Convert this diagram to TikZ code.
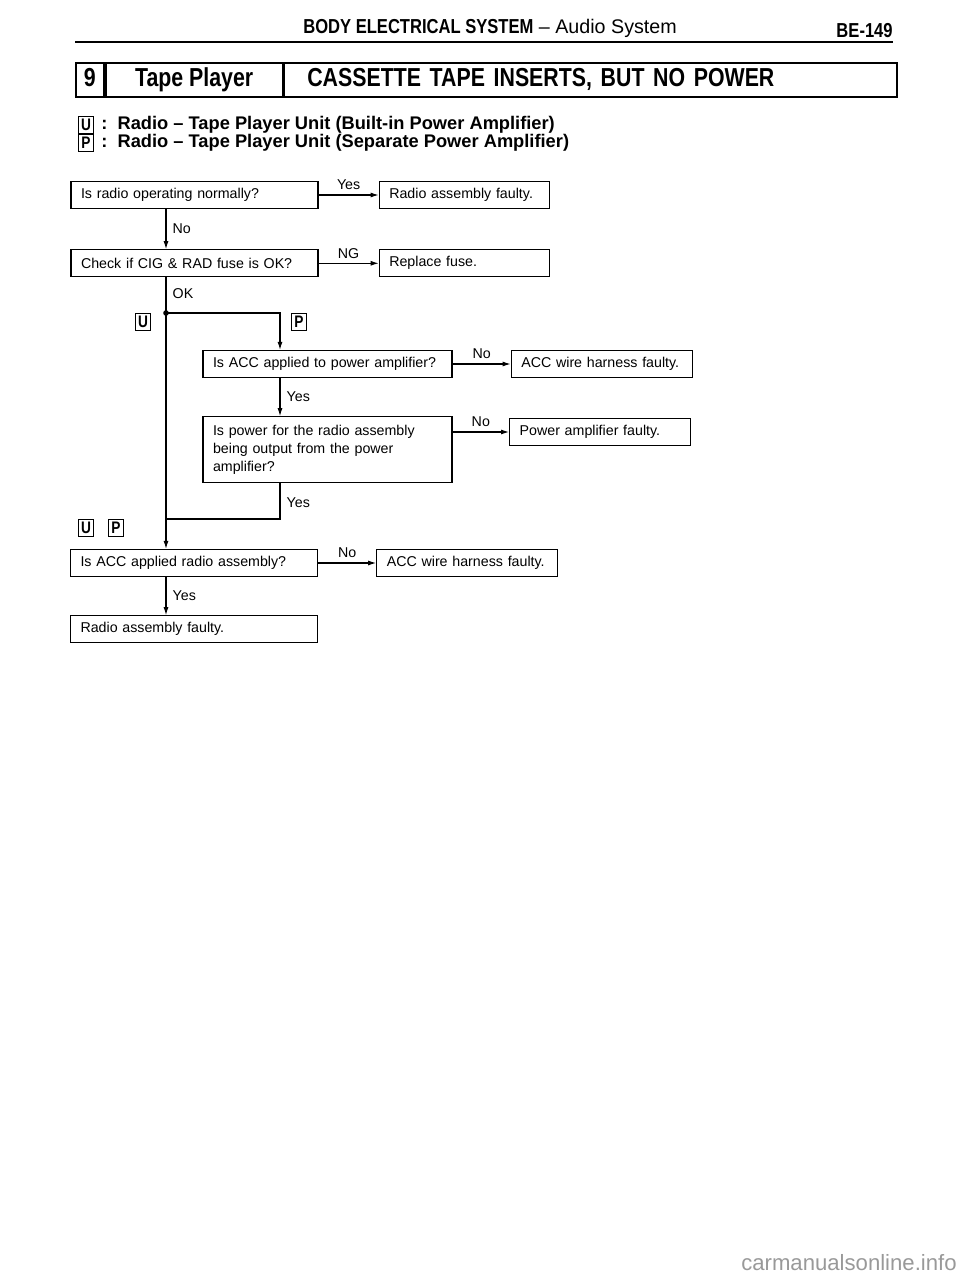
\documentclass[tikz,border=0pt]{standalone}
\usepackage{fontspec}
\setmainfont{Liberation Sans}
\newfontfamily\condfont[FakeStretch=0.82, Ligatures=TeX]{Liberation Sans}
\usetikzlibrary{arrows.meta, positioning}
\tikzset{
  ask/.style={rectangle, draw, line width=0.75pt, minimum height=0.54cm,
              text width=4.54cm, inner xsep=0.2cm, align=left,
              font=\fontsize{8.1}{10.2}\selectfont},
  res/.style={ask, text width=3.0cm},
  wide/.style={ask, text width=3.22cm},
  tag/.style={rectangle, draw, line width=0.6pt, inner sep=0pt,
              minimum width=0.3cm, minimum height=0.34cm,
              font=\condfont\bfseries\fontsize{9.5}{9.5}\selectfont},
  cell/.style={rectangle, draw, line width=1pt, minimum height=0.68cm,
               inner sep=0pt, text height=10.5pt, text depth=3pt,
               font=\condfont\bfseries\fontsize{14.8}{14.8}\selectfont},
  lbl/.style={font=\fontsize{8.1}{9}\selectfont, inner sep=1.5pt},
  arc/.style={-{Latex[length=1.6mm, width=1mm]}, line width=0.6pt},
  wire/.style={line width=0.6pt}
}
\begin{document}
\begin{tikzpicture}[x=0.02cm, y=-0.02cm, node distance=0.8cm]
  \useasboundingbox (0,0) rectangle (960,1280);
  % page header
  \node[anchor=west, inner sep=0pt, font=\fontsize{11.2}{11.2}\selectfont] (head) at (303,28)
       {{\condfont\bfseries\fontsize{11.5}{11.5}\selectfont BODY ELECTRICAL SYSTEM} \textendash\ Audio System};
  \node[anchor=east, inner sep=0pt, font=\condfont\bfseries\fontsize{11.5}{11.5}\selectfont] (page) at (893,31) {BE-149};
  \draw[line width=1.6pt] (75,42) -- (893,42);
  % title bar
  \node[cell, anchor=west, minimum width=0.56cm] (tnum) at (75,80) {9};
  \node[cell, right=0pt of tnum, minimum width=3.54cm] (ttopic) {Tape Player};
  \node[cell, right=0pt of ttopic, minimum width=12.26cm, text width=11.34cm,
        inner xsep=0.46cm, align=left] (ttitle) {CASSETTE TAPE INSERTS, BUT NO POWER};
  % legend
  \node[tag] (lu) at (86,125) {U};
  \node[tag] (lp) at (86,143) {P};
  \node[anchor=west, inner sep=0pt, font=\bfseries\fontsize{10.4}{10.4}\selectfont] (txu) at (101,125)
       {:\ \ Radio \textendash\ Tape Player Unit (Built-in Power Amplifier)};
  \node[anchor=west, inner sep=0pt, font=\bfseries\fontsize{10.4}{10.4}\selectfont] (txp) at (101,143)
       {:\ \ Radio \textendash\ Tape Player Unit (Separate Power Amplifier)};

  % flow chart
  \node[ask] (ask1) at (194.5,195) {Is radio operating normally?};
  \node[res, right=1.2cm of ask1] (res1) {Radio assembly faulty.};
  \node[ask, below=of ask1] (ask2) {Check if CIG \& RAD fuse is OK?};
  \node[res, right=1.2cm of ask2] (res2) {Replace fuse.};
  \node[ask, text width=4.58cm] (ask3) at (327.5,364) {Is ACC applied to power amplifier?};
  \node[wide, right=1.16cm of ask3] (res3) {ACC wire harness faulty.};
  \node[ask, text width=4.58cm, below=0.76cm of ask3, minimum height=1.32cm] (ask4)
       {Is power for the radio assembly\\being output from the power\\amplifier?};
  \node[wide, anchor=west] (res4) at (509,432) {Power amplifier faulty.};
  \node[ask] (ask5) at (194,563) {Is ACC applied radio assembly?};
  \node[wide, right=1.16cm of ask5] (res5) {ACC wire harness faulty.};
  \node[ask, below=0.76cm of ask5] (res6) {Radio assembly faulty.};

  \coordinate (sp) at (166,313);
  \coordinate (br) at (280,313);
  \coordinate (jn) at (280,519);
  \node[tag] (tu) at (143,322) {U};
  \node[tag] (tp) at (299,322) {P};
  \node[tag] (tu2) at (86,528) {U};
  \node[tag, right=0.28cm of tu2] (tp2) {P};

  \foreach \a/\b/\t in {ask1/res1/Yes, ask2/res2/NG, ask3/res3/No, ask5/res5/No}
    \draw[arc] (\a) -- node[lbl, above=1pt] {\t} (\b);
  \draw[arc] (ask4.east |- res4.west) -- node[lbl, above=1pt] {No} (res4.west);

  \draw[arc] (ask1.south -| sp) -- node[lbl, right=2pt] {No} (ask2.north -| sp);
  \draw[wire] (ask2.south -| sp) -- node[lbl, right=2pt, pos=0.45] {OK} (sp);
  \draw[arc] (sp) -- (ask5.north -| sp);
  \fill (sp) circle (1.6pt);
  \draw[arc] (sp) -- (br) -- (ask3.north -| br);
  \draw[arc] (ask3.south -| br) -- node[lbl, right=2pt] {Yes} (ask4.north -| br);
  \draw[wire] (ask4.south -| br) -- node[lbl, right=2pt, pos=0.55] {Yes} (jn) -- (jn -| sp);
  \draw[arc] (ask5.south -| sp) -- node[lbl, right=2pt] {Yes} (res6.north -| sp);

  % watermark
  \node[anchor=east, inner sep=0pt, text=black!40, font=\fontsize{12.6}{12.6}\selectfont] (wm) at (957,1263)
       {carmanualsonline.info};
\end{tikzpicture}
\end{document}
